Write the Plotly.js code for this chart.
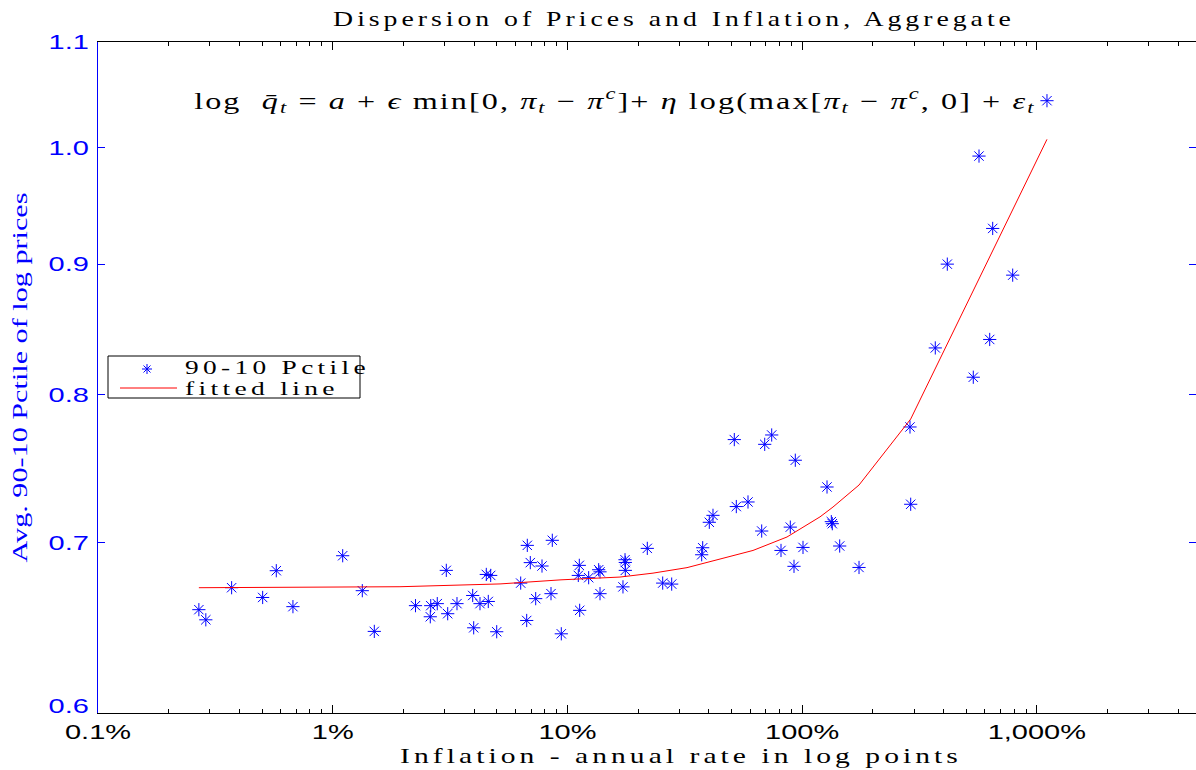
<!DOCTYPE html>
<html>
<head>
<meta charset="utf-8">
<script src="https://cdn.plot.ly/plotly-3.0.1.min.js"></script>
<style>body{margin:0;background:#fff}</style>
</head>
<body>
<div id="chart" style="width:1196px;height:770px"></div>
<script>
// Inflation (annual rate in log points, %) and avg. 90-10 percentile of log prices
const inflationPct = [0.269, 0.288, 0.371, 0.575, 0.503, 0.677, 1.103, 1.337, 1.504, 2.253,
  2.616, 2.790, 2.605, 3.048, 3.090, 3.385, 3.949, 3.988, 4.242, 4.602,
  4.513, 4.712, 4.998, 6.748, 8.623, 6.949, 7.794, 6.324, 6.708, 7.327,
  8.514, 9.419, 11.24, 11.13, 12.32, 11.28, 13.59, 13.77, 13.77, 17.60,
  17.65, 17.65, 17.25, 21.90, 25.47, 27.82, 37.71, 37.34, 40.24, 41.72,
  51.42, 69.29, 74.21, 52.44, 58.82, 93.55, 67.28, 89.07, 81.30, 100.9,
  92.36, 127.7, 133.2, 134.5, 144.6, 174.8, 288.2, 290.2, 369.4, 415.6,
  536.3, 567.2, 630.0, 648.8, 789.4, 1105];
const dispersion = [0.6587, 0.6527, 0.6719, 0.6823, 0.6660, 0.6605, 0.6916, 0.6701, 0.6459, 0.6611,
  0.6611, 0.6623, 0.6545, 0.6825, 0.6563, 0.6623, 0.6672, 0.6480, 0.6623, 0.6636,
  0.6800, 0.6794, 0.6457, 0.6981, 0.7013, 0.6873, 0.6852, 0.6747, 0.6523, 0.6653,
  0.6683, 0.6445, 0.6856, 0.6794, 0.6780, 0.6583, 0.6829, 0.6816, 0.6683, 0.6891,
  0.6874, 0.6825, 0.6724, 0.6962, 0.6747, 0.6741, 0.6966, 0.6922, 0.7128, 0.7173,
  0.7681, 0.7648, 0.7713, 0.7230, 0.7260, 0.7539, 0.7072, 0.7097, 0.6949, 0.6968,
  0.6850, 0.7359, 0.7132, 0.7119, 0.6977, 0.6843, 0.7769, 0.7245, 0.8344, 0.9000,
  0.8126, 0.9923, 0.8408, 0.9295, 0.8911, 1.0432];

// Fitted line
const fitInflationPct = [0.269, 0.726, 1.935, 5.162, 9.391, 16.75, 23.16, 32.33, 44.69, 61.77, 86.23, 119.2, 135.4, 174.8, 290.2, 1105];
const fitDispersion = [0.6719, 0.6721, 0.6725, 0.6742, 0.6767, 0.6784, 0.6808, 0.6842, 0.6893, 0.6949, 0.7034, 0.7163, 0.7227, 0.7372, 0.7825, 1.0074];

// Ticks
const xTickVals = [0.1, 1, 10, 100, 1000];
const xTickText = ['0.1%', '1%', '10%', '100%', '1,000%'];
const yTickVals = [0.6, 0.7, 0.8, 0.9, 1.0, 1.1];
const yTickText = ['0.6', '0.7', '0.8', '0.9', '1.0', '1.1'];

const seriesNames = ['90-10 Pctile', 'fitted line'];
const chartTitle = 'Dispersion of Prices and Inflation, Aggregate';
const xTitle = 'Inflation - annual rate in log points';
const yTitle = 'Avg. 90-10 Pctile of log prices';
const formula = 'log  <i>q\u0304</i><sub><i>t</i></sub> = <i>a</i> + <i>\u03f5</i> min[0, <i>\u03c0</i><sub><i>t</i></sub> \u2212 <i>\u03c0</i><sup><i>c</i></sup>]+ <i>\u03b7</i> log(max[<i>\u03c0</i><sub><i>t</i></sub> \u2212 <i>\u03c0</i><sup><i>c</i></sup>, 0] + <i>\u03b5</i><sub><i>t</i></sub>';

const minorX = [];
[0.1, 1, 10, 100, 1000].forEach(d => { for (let k = 2; k <= 9; k++) minorX.push(k * d); });

const BLUE = 'rgb(0,0,255)', RED = 'rgb(255,0,0)';
const serif = 'Liberation Serif, Times New Roman, serif';
const sans = 'Liberation Sans, Arial, sans-serif';

// pixel -> paper helpers for the hand-drawn legend box
const L = 98, W = 1098, T = 42, H = 671;
const px = x => (x - L) / W;
const py = y => (T + H - y) / H;

const data = [
  { type: 'scatter', mode: 'markers', name: seriesNames[0], x: inflationPct, y: dispersion,
    marker: { symbol: 'asterisk-open', size: 11, color: BLUE, line: { color: BLUE, width: 1 } } },
  { type: 'scatter', mode: 'lines', name: seriesNames[1], x: fitInflationPct, y: fitDispersion,
    line: { color: RED, width: 1 } }
];

const starX = px(147), starY = py(369);
const shapes = [
  { type: 'rect', xref: 'paper', yref: 'paper', x0: px(108), x1: px(360), y0: py(398), y1: py(356),
    line: { color: 'black', width: 1 }, fillcolor: 'white', layer: 'above' },
  { type: 'line', xref: 'paper', yref: 'paper', x0: px(120), x1: px(177), y0: py(388), y1: py(388),
    line: { color: RED, width: 1 }, layer: 'above' }
];
[[-5, 0, 5, 0], [0, -5, 0, 5], [-3.5, -3.5, 3.5, 3.5], [-3.5, 3.5, 3.5, -3.5]].forEach(s => {
  shapes.push({ type: 'line', xref: 'paper', yref: 'paper', xsizemode: 'pixel', ysizemode: 'pixel',
    xanchor: starX, yanchor: starY, x0: s[0], y0: s[1], x1: s[2], y1: s[3],
    line: { color: BLUE, width: 1 }, layer: 'above' });
});

const layout = {
  width: 1196, height: 770,
  margin: { l: L, r: 0, t: T, b: 770 - T - H, pad: 0 },
  paper_bgcolor: 'white', plot_bgcolor: 'white',
  showlegend: false,
  title: { text: chartTitle, font: { family: serif, size: 21, color: 'black' },
    xref: 'paper', x: px(674), xanchor: 'center', yref: 'container', y: 1 - 19 / 770, yanchor: 'middle' },
  xaxis: {
    type: 'log', range: [-1, -1 + W / 234.7], automargin: false,
    showgrid: false, zeroline: false, showline: true, linecolor: 'black', linewidth: 1, mirror: 'ticks',
    ticks: 'inside', ticklen: 8, tickcolor: 'black', tickwidth: 1,
    tickmode: 'array', tickvals: xTickVals, ticktext: xTickText,
    tickfont: { family: sans, size: 21, color: 'black' },
    minor: { tickmode: 'array', tickvals: minorX, ticks: 'inside', ticklen: 4, tickcolor: 'black', showgrid: false },
    title: { text: xTitle, font: { family: serif, size: 22, color: 'black' }, standoff: 2 }
  },
  yaxis: {
    type: 'log', range: [Math.log10(0.6), Math.log10(1.1)], automargin: false,
    showgrid: false, zeroline: false, showline: true, linecolor: BLUE, linewidth: 1, mirror: 'ticks',
    ticks: 'inside', ticklen: 7, tickcolor: BLUE, tickwidth: 1,
    tickmode: 'array', tickvals: yTickVals, ticktext: yTickText,
    tickfont: { family: sans, size: 21, color: BLUE },
    ticklabelstandoff: 4,
    title: { text: yTitle, font: { family: serif, size: 22, color: BLUE }, standoff: 25 }
  },
  shapes: shapes,
  annotations: [
    { xref: 'paper', yref: 'paper', x: px(615), y: py(100), xanchor: 'center', yanchor: 'middle',
      text: formula, showarrow: false, font: { family: serif, size: 23, color: 'black' } },
    { xref: 'paper', yref: 'paper', x: px(183), y: py(367), xanchor: 'left', yanchor: 'middle', align: 'left',
      text: seriesNames[0], showarrow: false, font: { family: serif, size: 19, color: 'black' } },
    { xref: 'paper', yref: 'paper', x: px(183), y: py(389), xanchor: 'left', yanchor: 'middle', align: 'left',
      text: seriesNames[1], showarrow: false, font: { family: serif, size: 19, color: 'black' } }
  ]
};

// widen a text node: some letter spacing plus a light horizontal stretch (the reference is stretched sideways)
function stretch(el, opt) {
  if (!el) return;
  if (opt.ls) el.style.letterSpacing = opt.ls + 'px';
  const bb = el.getBBox();
  if (!bb.width) return;
  const sx = opt.w ? opt.w / bb.width : (opt.sx || 1);
  let cx = bb.x + bb.width / 2;
  if (opt.pivot === 'left') cx = bb.x;
  if (opt.pivot === 'right') cx = bb.x + bb.width;
  const cy = bb.y + bb.height / 2;
  const t = el.getAttribute('transform') || '';
  el.setAttribute('transform', t + ' translate(' + (opt.dx || 0) + ',' + (opt.dy || 0) + ') translate(' + cx + ',' + cy + ') scale(' + sx + ',1) translate(' + (-cx) + ',' + (-cy) + ')');
}

Plotly.newPlot('chart', data, layout, { staticPlot: true, displayModeBar: false }).then(gd => {
  stretch(gd.querySelector('.gtitle'), { w: 682, ls: 3 });
  stretch(gd.querySelector('.xtitle'), { w: 562, dx: 34, ls: 3 });
  stretch(gd.querySelector('.ytitle'), { w: 370 });
  gd.querySelectorAll('.xtick text').forEach(e => stretch(e, { sx: 1.38 }));
  gd.querySelectorAll('.ytick text').forEach((e, i) => stretch(e, { sx: 1.38, pivot: 'right', dy: i === 0 ? -7 : 0 }));
  const ann = gd.querySelectorAll('.annotation-text');
  stretch(ann[0], { w: 842, ls: 1.5 });
  stretch(ann[1], { w: 185, pivot: 'left', ls: 3 });
  stretch(ann[2], { w: 154, pivot: 'left', ls: 3 });
});
</script>
</body>
</html>
